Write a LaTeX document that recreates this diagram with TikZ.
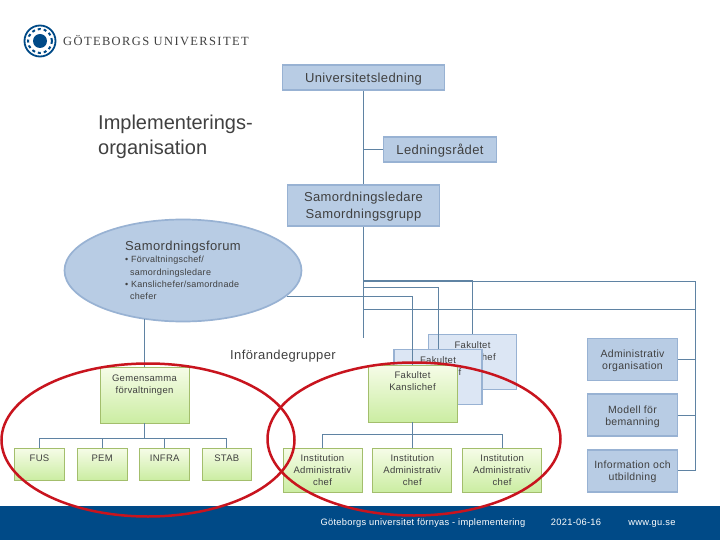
\documentclass[tikz,border=0pt]{standalone}
\usepackage{fontspec}
\setmainfont{Liberation Sans}[LetterSpace=3]
\newfontfamily\plainfont{Liberation Sans}
\newfontfamily\logofont{Liberation Serif}[LetterSpace=11]
\usetikzlibrary{positioning,shapes.geometric,backgrounds}
\definecolor{gublue}{HTML}{B8CCE4}
\definecolor{guedge}{HTML}{98B2D3}
\definecolor{gupale}{HTML}{DCE6F4}
\definecolor{guline}{HTML}{5F83A3}
\definecolor{gunavy}{HTML}{004A87}
\definecolor{gutext}{HTML}{404040}
\definecolor{gugreen}{HTML}{CBEDA2}
\definecolor{gulight}{HTML}{F6FCE8}
\definecolor{guolive}{HTML}{A3BE6C}
\definecolor{gured}{HTML}{C8141E}

\begin{document}
\begin{tikzpicture}[
  x=1pt,y=-1pt,
  node distance=11.8pt and 11.8pt,
  every node/.style={text=gutext,inner sep=0pt,align=center},
  bluebox/.style={draw=guedge,line width=1.7pt,fill=gublue,text depth=0pt,font=\fontsize{13}{17}\selectfont},
  sidebox/.style={draw=guedge,line width=1.7pt,fill=gublue,text depth=0pt,minimum width=90pt,minimum height=42pt,font=\fontsize{10.5}{12}\selectfont},
  palebox/.style={draw=guedge,line width=1.7pt,fill=gupale,minimum width=88pt,minimum height=55pt,font=\fontsize{9.5}{12}\selectfont},
  greenbox/.style={draw=guolive,line width=.8pt,top color=gulight,bottom color=gugreen,font=\fontsize{9.5}{12}\selectfont},
  unitbox/.style={greenbox,minimum width=50pt,minimum height=32pt},
  instbox/.style={greenbox,minimum width=79pt,minimum height=44pt},
  link/.style={draw=guline,line width=.9pt},
  ring/.style={draw=gured,line width=2.5pt,shape=ellipse,minimum width=293pt,minimum height=153pt},
  heading/.style={font=\plainfont\fontsize{20}{25}\selectfont,align=left},
  foot/.style={text=white,anchor=base,font=\fontsize{9.3}{10}\selectfont}
]
\useasboundingbox (0,0) rectangle (720,540);
\fill[white] (0,0) rectangle (720,540);
\fill[gunavy] (0,506) rectangle (720,540);
% logo
\node[shape=circle,draw=gunavy,fill=white,line width=1.8pt,minimum size=31pt] (seal) at (40,41) {};
\node[shape=circle,draw=gunavy,dashed,line width=2pt,minimum size=24pt] (sealring) at (seal) {};
\node[shape=circle,fill=gunavy,minimum size=14pt] (sealcore) at (seal) {};
\node[anchor=west,font=\logofont\fontsize{12.5}{13}\selectfont] (logotext) at (63,41) {GÖTEBORGS UNIVERSITET};
% top of the tree
\node[bluebox,minimum width=162pt,minimum height=25pt] (univ) at (363.5,77.5) {Universitetsledning};
\node[bluebox,minimum width=113pt,minimum height=25pt] (ledn) at (440,149.5) {Ledningsrådet};
\node[bluebox,minimum width=152pt,minimum height=41pt] (samord) at (363.5,205.5) {Samordningsledare\\Samordningsgrupp};
\node[heading,anchor=north west] (title) at (98,114.5) {Implementerings-\\organisation};
\node[shape=ellipse,draw=guedge,line width=1.7pt,fill=gublue,minimum width=237pt,minimum height=102pt,align=left,font=\fontsize{9}{12.4}\selectfont] (forum) at (183,270.5)
  {{\fontsize{13}{14}\selectfont Samordningsforum}\\[0pt]
   • Förvaltningschef/\\
   \hspace{5pt}samordningsledare\\
   • Kanslichefer/samordnade\\
   \hspace{5pt}chefer};
\node[font=\fontsize{13}{16}\selectfont] (groups) at (283,356) {Införandegrupper};
% faculties
\node[palebox] (fakA) at (472.5,362) {Fakultet\\Kanslichef\\[10pt]~};
\node[palebox] (fakB) at (438,377) {Fakultet\\Kanslichef\\[10pt]~};
\coordinate (tapA) at (363.5,281);
\coordinate (tapB) at (363.5,287);
\coordinate (tapD) at (363.5,309);
\coordinate (tapE) at (363.5,338);
\coordinate (railTop) at (695,281);
\draw[link,line width=1.2pt] (tapA) -| (fakA.north);
\draw[link] (tapB) -| (fakB.north);
\draw[link] (forum.-14.6) -| (412.5,365);
\node[greenbox,minimum width=89pt,minimum height=57pt] (fakC) at (412.5,393.5) {Fakultet\\Kanslichef\\[13pt]~};
% side column
\node[sidebox] (admin) at (632.5,359.5) {Administrativ\\organisation};
\node[sidebox,below=12pt of admin] (modell) {Modell för\\bemanning};
\node[sidebox,below=12pt of modell] (info) {Information och\\utbildning};
% common administration
\node[greenbox,minimum width=89pt,minimum height=56pt] (gem) at (144.5,395) {Gemensamma\\förvaltningen\\[10pt]~};
\node[unitbox] (fus) at (39.5,464) {FUS\\~};
\node[unitbox,right=of fus] (pem) {PEM\\~};
\node[unitbox,right=of pem] (infra) {INFRA\\~};
\node[unitbox,right=of infra,minimum width=49pt] (stab) {STAB\\~};
\coordinate (gembus) at (144.5,438);
\coordinate (fakbus) at (412.5,434);
\node[instbox] (instA) at (322.5,470) {Institution\\Administrativ\\chef};
\node[instbox,right=10pt of instA] (instB) {Institution\\Administrativ\\chef};
\node[instbox,right=10pt of instB] (instC) {Institution\\Administrativ\\chef};
% connectors
\draw[link] (univ.south) -- (samord.north);
\draw[link] (ledn.west) -- (ledn.west -| univ.south);
\draw[link] (samord.south) -- (tapE);
\draw[link] (tapA) -- (railTop) -- (info.east -| railTop) -- (info.east);
\draw[link] (tapD) -- (tapD -| railTop);
\begin{scope}[on background layer]
\draw[link] (tapE) -- (tapE -| railTop);
\end{scope}
\draw[link] (admin.east) -- (admin.east -| railTop);
\draw[link] (modell.east) -- (modell.east -| railTop);
\draw[link] (gem.north) -- (gem.north |- forum.231.3);
\draw[link] (gem.south) -- (gembus);
\foreach \unit in {fus,pem,infra,stab}
  \draw[link] (gembus) -| (\unit.north);
\draw[link] (fakC.south) -- (fakbus);
\foreach \unit in {instA,instB,instC}
  \draw[link] (fakbus) -| (\unit.north);
% footer
\node[foot] (foottitle) at (423,525) {Göteborgs universitet förnyas - implementering};
\node[foot] (footdate) at (576,525) {2021-06-16};
\node[foot] (footweb) at (652,525) {www.gu.se};
% red rings
\node[ring] (ringL) at (148,440) {};
\node[ring] (ringR) at (414,439) {};
\end{tikzpicture}
\end{document}
